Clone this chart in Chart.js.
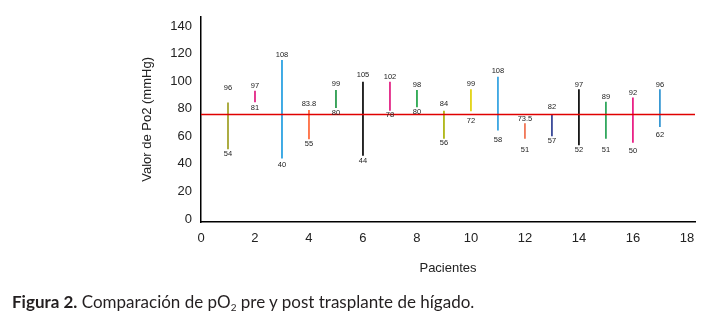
<!DOCTYPE html>
<html lang="es">
<head>
<meta charset="utf-8">
<title>Figura 2</title>
<script src="https://cdn.jsdelivr.net/npm/chart.js@4.4.1/dist/chart.umd.min.js"></script>
<style>
    body { margin: 0; background: #fff; }
    #wrap { position: relative; width: 719px; height: 318px; }
    #caption {
        position: absolute; left: 12px; top: 291px;
        font-family: Lato, "Open Sans", sans-serif; font-size: 17px;
        color: #231f20; white-space: nowrap;
    }
    #caption sub { font-size: 10px; vertical-align: -3px; line-height: 0; }
</style>
</head>
<body>
<div id="wrap">
    <canvas id="po2Chart" width="719" height="318"></canvas>
    <div id="caption"><b>Figura 2.</b> Comparación de pO<sub>2</sub> pre y post trasplante de hígado.</div>
</div>
<script>
// pacientes 1..17
const pacientes = [1, 2, 3, 4, 5, 6, 7, 8, 9, 10, 11, 12, 13, 14, 15, 16, 17];

// valores rotulados en la figura (mmHg)
const valorAlto = ['96', '97', '108', '83.8', '99', '105', '102', '98', '84', '99', '108', '73.5', '82', '97', '89', '92', '96'];
const valorBajo = ['54', '81', '40', '55', '80', '44', '78', '80', '56', '72', '58', '51', '57', '52', '51', '50', '62'];

// extremos de los segmentos tal como se ven dibujados
const segmentoAlto = [86.5, 94.9, 117.2, 81.0, 95.4, 101.4, 101.4, 95.4, 80.5, 96.1, 105.0, 71.4, 78.1, 96.1, 87.0, 90.1, 96.1];
const segmentoBajo = [53.0, 87.0, 46.2, 60.2, 82.9, 48.2, 81.0, 83.4, 60.6, 80.5, 66.6, 60.6, 62.5, 55.9, 60.6, 57.7, 69.2];

const lineaReferencia = 78;

const ticksX = [0, 2, 4, 6, 8, 10, 12, 14, 16, 18];
const ticksY = [0, 20, 40, 60, 80, 100, 120, 140];

const colores = [
    '#9c9c1c', '#e0147c', '#1b9be0', '#ff6030', '#1a9440', '#000000',
    '#e0147c', '#18a040', '#a8b000', '#e0d000', '#2a9ee0', '#f06a48',
    '#2a3a90', '#000000', '#20a050', '#e8107c', '#2890d0'
];

const etiquetas = {
    id: 'etiquetas',
    afterDatasetsDraw(chart) {
        const ctx = chart.ctx;
        const xs = chart.scales.x;
        const ys = chart.scales.y;
        ctx.save();
        ctx.font = '7.5px "Liberation Sans", Arial, sans-serif';
        ctx.fillStyle = '#222';
        ctx.textAlign = 'center';
        ctx.textBaseline = 'middle';
        pacientes.forEach((p, i) => {
            const x = xs.getPixelForValue(p);
            const yTop = Math.min(ys.getPixelForValue(Number(valorAlto[i])) - 2,
                                  ys.getPixelForValue(segmentoAlto[i]) - 5);
            const yBot = Math.max(ys.getPixelForValue(Number(valorBajo[i])) - 2,
                                  ys.getPixelForValue(segmentoBajo[i]) + 5);
            ctx.fillText(valorAlto[i], x, yTop);
            ctx.fillText(valorBajo[i], x, yBot);
        });
        ctx.restore();
    }
};

const fuente = { family: '"Liberation Sans", Arial, sans-serif', size: 13 };

new Chart(document.getElementById('po2Chart'), {
    type: 'bar',
    data: {
        datasets: [{
            type: 'bar',
            data: pacientes.map((p, i) => ({ x: p, y: [segmentoBajo[i], segmentoAlto[i]] })),
            backgroundColor: colores,
            borderWidth: 0,
            barThickness: 1,
            order: 1
        }, {
            type: 'line',
            data: [{ x: 0, y: lineaReferencia }, { x: 18.3, y: lineaReferencia }],
            borderColor: '#e00000',
            borderWidth: 1.4,
            pointRadius: 0,
            order: 0
        }]
    },
    options: {
        responsive: false,
        animation: false,
        layout: { padding: { left: 140, top: 15, right: 24, bottom: 42 } },
        plugins: {
            legend: { display: false },
            tooltip: { enabled: false }
        },
        scales: {
            x: {
                type: 'linear',
                offset: false,
                min: 0,
                max: 18.3,
                grid: { display: false, drawTicks: false, offset: false },
                border: { display: true, color: '#000', width: 1.5 },
                ticks: { padding: 9, color: '#222', font: fuente, maxRotation: 0 },
                afterBuildTicks: s => { s.ticks = ticksX.map(v => ({ value: v })); },
                afterFit: s => { s.height = 54; },
                title: { display: true, text: 'Pacientes', color: '#222', font: fuente, padding: 0 }
            },
            y: {
                min: 0,
                max: 148.8,
                grid: { display: false, drawTicks: false },
                border: { display: true, color: '#000', width: 1.5 },
                ticks: { padding: 9, labelOffset: -3, color: '#222', font: fuente },
                afterBuildTicks: s => { s.ticks = ticksY.map(v => ({ value: v })); },
                afterFit: s => { s.width = 61; },
                title: { display: true, text: 'Valor de Po2 (mmHg)', color: '#222', font: fuente, padding: 0 }
            }
        }
    },
    plugins: [etiquetas]
});
</script>
</body>
</html>
